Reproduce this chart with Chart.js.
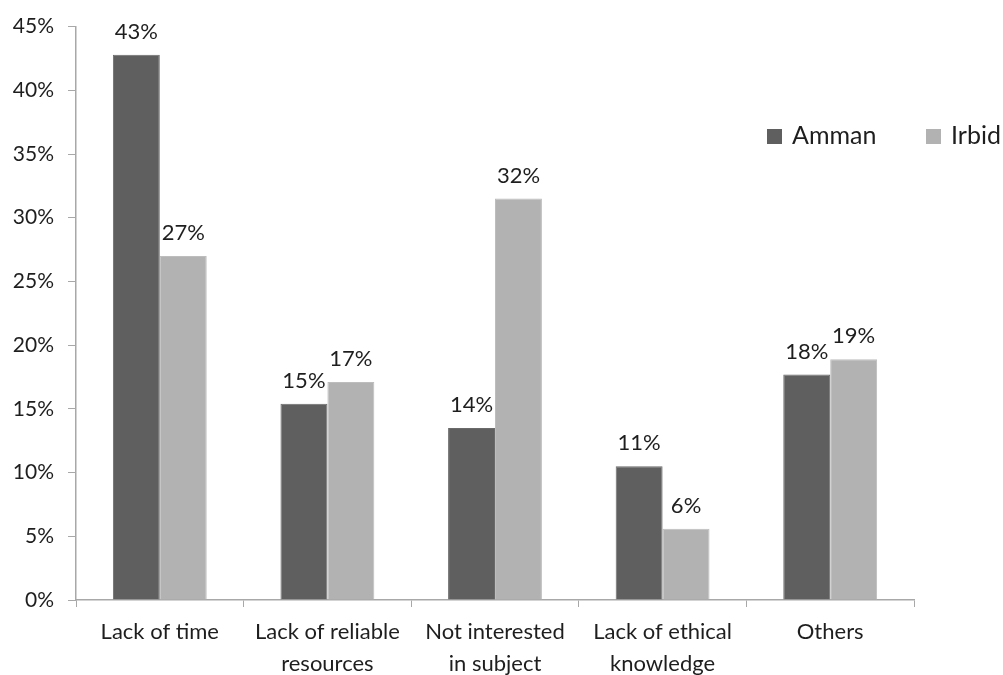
<!DOCTYPE html>
<html>
<head>
<meta charset="utf-8">
<script src="https://cdn.jsdelivr.net/npm/chart.js@4"></script>
<style>
  html, body { margin: 0; padding: 0; background: #fff; }
  #wrap { width: 1003px; height: 675px; }
</style>
</head>
<body>
<div id="wrap"><canvas id="c"></canvas></div>
<script>
const categories = [
  'Lack of time',
  ['Lack of reliable', 'resources'],
  ['Not interested', 'in subject'],
  ['Lack of ethical', 'knowledge'],
  'Others'
];
const amman = [42.8, 15.4, 13.5, 10.5, 17.7];
const irbid = [27.0, 17.1, 31.5, 5.6, 18.9];
const seriesNames = ['Amman', 'Irbid'];
const yTicks = [0, 5, 10, 15, 20, 25, 30, 35, 40, 45];

const FONT = 'Lato, "Open Sans", sans-serif';

// value labels above each bar
const barLabels = {
  id: 'barLabels',
  afterDatasetsDraw(chart) {
    const ctx = chart.ctx;
    ctx.save();
    ctx.font = '22px ' + FONT;
    ctx.fillStyle = '#1e1e1e';
    ctx.textAlign = 'center';
    ctx.textBaseline = 'bottom';
    chart.data.datasets.forEach((ds, i) => {
      chart.getDatasetMeta(i).data.forEach((bar, j) => {
        ctx.fillText(Math.round(ds.data[j]) + '%', bar.x, bar.y - 12);
      });
    });
    ctx.restore();
  }
};

// legend sitting to the right, over the plot
const sideLegend = {
  id: 'sideLegend',
  afterDraw(chart) {
    const ctx = chart.ctx;
    ctx.save();
    ctx.font = '25px ' + FONT;
    ctx.textBaseline = 'middle';
    let x = 767;
    const y = 136;
    chart.data.datasets.forEach(ds => {
      ctx.fillStyle = ds.backgroundColor;
      ctx.fillRect(x, y - 7, 15, 15);
      ctx.fillStyle = '#1e1e1e';
      ctx.fillText(ds.label, x + 25, y);
      x += 159;
    });
    ctx.restore();
  }
};

new Chart(document.getElementById('c'), {
  type: 'bar',
  data: {
    labels: categories,
    datasets: [
      { label: seriesNames[0], data: amman, backgroundColor: '#5f5f5f', borderColor: '#6a6a6a', borderWidth: 1 },
      { label: seriesNames[1], data: irbid, backgroundColor: '#b2b2b2', borderColor: '#bdbdbd', borderWidth: 1 }
    ]
  },
  options: {
    responsive: true,
    maintainAspectRatio: false,
    animation: false,
    layout: { padding: { top: 25, right: 89, left: 0, bottom: 0 } },
    datasets: { bar: { categoryPercentage: 0.56, barPercentage: 1 } },
    plugins: {
      legend: { display: false },
      tooltip: { enabled: false }
    },
    scales: {
      x: {
        grid: { offset: true, drawOnChartArea: false, tickLength: 7, color: '#a8a8a8' },
        border: { color: '#a8a8a8', width: 1.5 },
        ticks: { color: '#1e1e1e', font: { family: FONT, size: 22, lineHeight: 1.45 }, padding: 9, maxRotation: 0, autoSkip: false },
        afterFit(scale) { scale.height = 75; }
      },
      y: {
        min: 0,
        max: 45,
        afterBuildTicks(scale) { scale.ticks = yTicks.map(v => ({ value: v })); },
        grid: { drawOnChartArea: false, tickLength: 8, color: '#a8a8a8' },
        border: { color: '#a8a8a8', width: 1.5 },
        ticks: { color: '#1e1e1e', font: { family: FONT, size: 21 }, padding: 14, callback: v => v + '%' },
        afterFit(scale) { scale.width = 76; }
      }
    }
  },
  plugins: [barLabels, sideLegend]
});
</script>
</body>
</html>
